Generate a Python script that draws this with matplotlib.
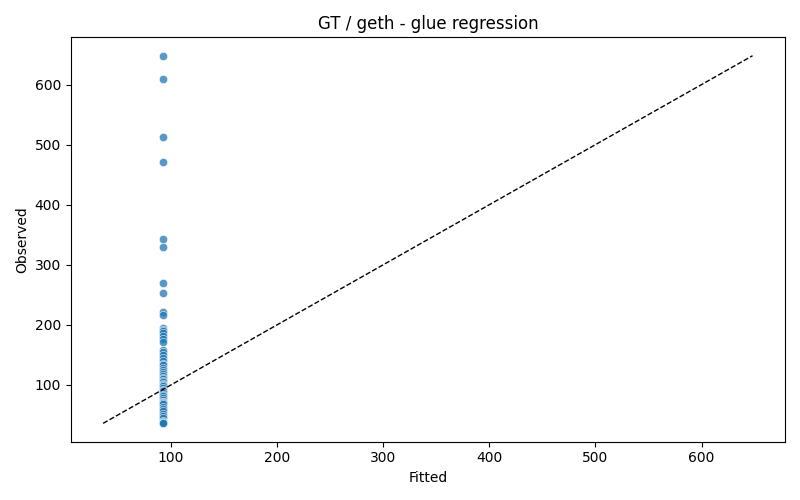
import numpy as np
import matplotlib
matplotlib.use("Agg")
import matplotlib.pyplot as plt

observed = [648, 609, 513, 471, 343, 330, 270, 253, 221, 217,
            195, 192, 190, 187, 182, 176, 172, 158, 154, 150,
            145, 139, 135, 133, 128, 125, 121, 118, 115, 112,
            110, 107, 104, 102, 100, 98, 95, 92, 90, 87,
            84, 81, 78, 75, 72, 71, 70, 68, 64, 60,
            56, 52, 48, 45, 40, 38, 37, 36]
fitted_value = 92
fitted = [fitted_value] * len(observed)

title = "GT / geth - glue regression"

fig, ax = plt.subplots(figsize=(8, 5), dpi=100)

ax.scatter(fitted, observed, s=36, color="#1f77b4", alpha=0.75,
           edgecolors="white", linewidths=0.5, zorder=2)

# identity line over the joint data range
lo = min(min(fitted), min(observed))
hi = max(max(fitted), max(observed))
ax.plot([lo, hi], [lo, hi], linestyle="--", color="black", linewidth=1)

ax.set_xlabel("Fitted")
ax.set_ylabel("Observed")
ax.set_title(title)

fig.tight_layout()
fig.savefig("out.png", dpi=100)
